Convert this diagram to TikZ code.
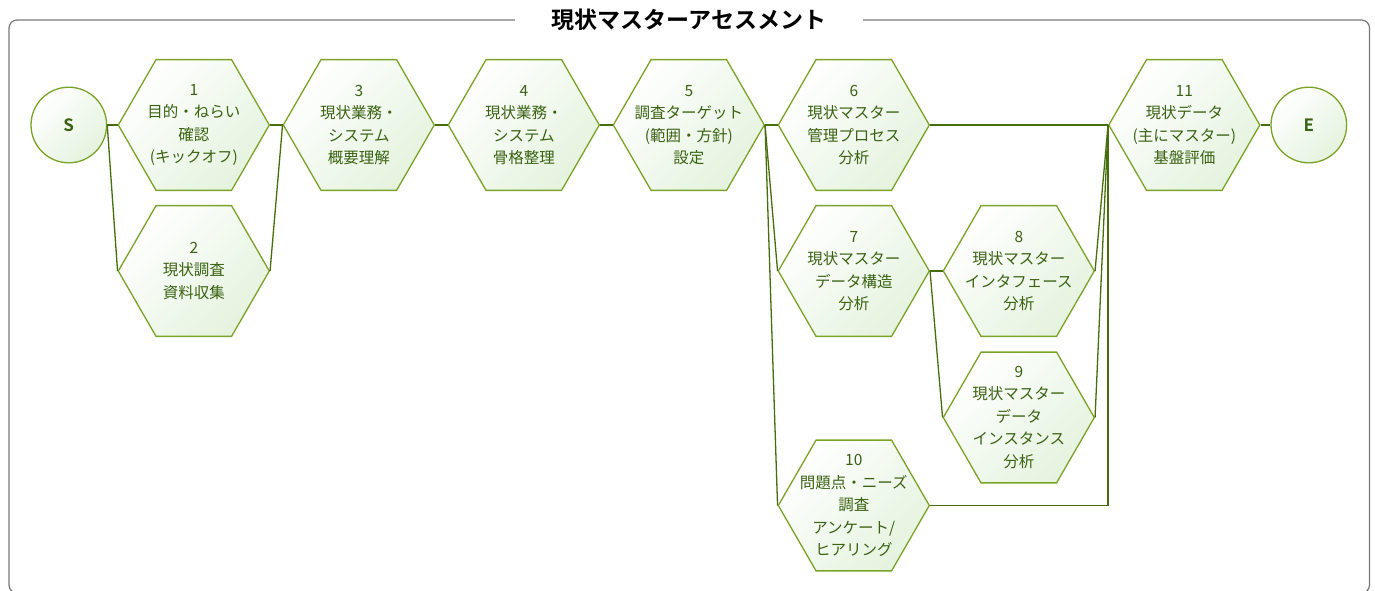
\documentclass[tikz,border=0pt]{standalone}
\usepackage{fontspec}
\setmainfont{Noto Sans CJK JP}[BoldFont={Noto Sans CJK JP Bold}]
\usetikzlibrary{shapes.geometric}

\definecolor{hexline}{RGB}{122,163,40}
\definecolor{linkline}{RGB}{70,110,12}
\definecolor{hexink}{RGB}{58,98,18}
\definecolor{hexfill}{RGB}{228,243,222}
\definecolor{framegray}{RGB}{120,120,120}

\tikzset{
  hexbox/.style={regular polygon, regular polygon sides=6, minimum size=151pt, inner sep=0pt, draw=hexline, line width=1.3pt, top color=white, bottom color=hexfill, shading angle=45},
  hexlabel/.style={text=hexink, align=center, inner sep=0pt, font=\fontsize{15.5}{22.5}\selectfont},
  endpoint/.style={circle, minimum size=75.6pt, inner sep=0pt, draw=hexline, line width=1.3pt, top color=white, bottom color=hexfill, shading angle=45, text=hexink, font=\fontsize{17}{20}\selectfont\bfseries},
  link/.style={draw=linkline, line width=1.3pt}
}

\begin{document}
\begin{tikzpicture}[x=1pt, y=-1pt]
    \useasboundingbox (0,0) rectangle (1375,591);
    % frame and title
    \draw[framegray, line width=1.2pt, rounded corners=8pt] (9,20) rectangle (1369.5,593);
    \node[fill=white, minimum width=348pt, inner ysep=2pt, font=\fontsize{23}{26}\selectfont\bfseries] (title) at (689,20) {現状マスターアセスメント};

    % start and end
    \node[endpoint] (S) at (68.8,125) {S};
    \node[endpoint] (E) at (1308.8,125) {E};

    % steps
    \node[hexbox] (h1) at (193.8,125) {};
    \node[hexlabel] (t1) at (h1) {1\\目的・ねらい\\確認\\(キックオフ)};
    \node[hexbox] (h2) at (193.8,271) {};
    \node[hexlabel] (t2) at (h2) {2\\現状調査\\資料収集};
    \node[hexbox] (h3) at (358.8,125) {};
    \node[hexlabel] (t3) at (h3) {3\\現状業務・\\システム\\概要理解};
    \node[hexbox] (h4) at (523.8,125) {};
    \node[hexlabel] (t4) at (h4) {4\\現状業務・\\システム\\骨格整理};
    \node[hexbox] (h5) at (688.8,125) {};
    \node[hexlabel] (t5) at (h5) {5\\調査ターゲット\\(範囲・方針)\\設定};
    \node[hexbox] (h6) at (853.8,125) {};
    \node[hexlabel] (t6) at (h6) {6\\現状マスター\\管理プロセス\\分析};
    \node[hexbox] (h7) at (853.8,271) {};
    \node[hexlabel] (t7) at (h7) {7\\現状マスター\\データ構造\\分析};
    \node[hexbox] (h8) at (1018.8,271) {};
    \node[hexlabel] (t8) at (h8) {8\\現状マスター\\インタフェース\\分析};
    \node[hexbox] (h9) at (1018.8,417.5) {};
    \node[hexlabel] (t9) at (h9) {9\\現状マスター\\データ\\インスタンス\\分析};
    \node[hexbox] (h10) at (853.8,505.5) {};
    \node[hexlabel] (t10) at (h10) {10\\問題点・ニーズ\\調査\\アンケート/\\ヒアリング};
    \node[hexbox] (h11) at (1184.3,125) {};
    \node[hexlabel] (t11) at (h11) {11\\現状データ\\(主にマスター)\\基盤評価};

    % links
    \draw[link] (S.east) -- (h1.west);
    \draw[link] (S.east) -- (h2.west);
    \draw[link] (h1.east) -- (h3.west);
    \draw[link] (h2.east) -- (h3.west);
    \draw[link] (h3.east) -- (h4.west);
    \draw[link] (h4.east) -- (h5.west);
    \draw[link] (h5.east) -- (h6.west);
    \draw[link] (h5.east) -- (h7.west);
    \draw[link] (h5.east) -- (h10.west);
    \draw[link] (h6.east) -- (h11.west);
    \draw[link] (h7.east) -- (h8.west);
    \draw[link] (h7.east) -- (h9.west);
    \draw[link] (h8.east) -- (h11.west);
    \draw[link] (h9.east) -- (h11.west);
    \draw[link] (h10.east) -| (h11.west);
    \draw[link] (h11.east) -- (E.west);
  \end{tikzpicture}
\end{document}
